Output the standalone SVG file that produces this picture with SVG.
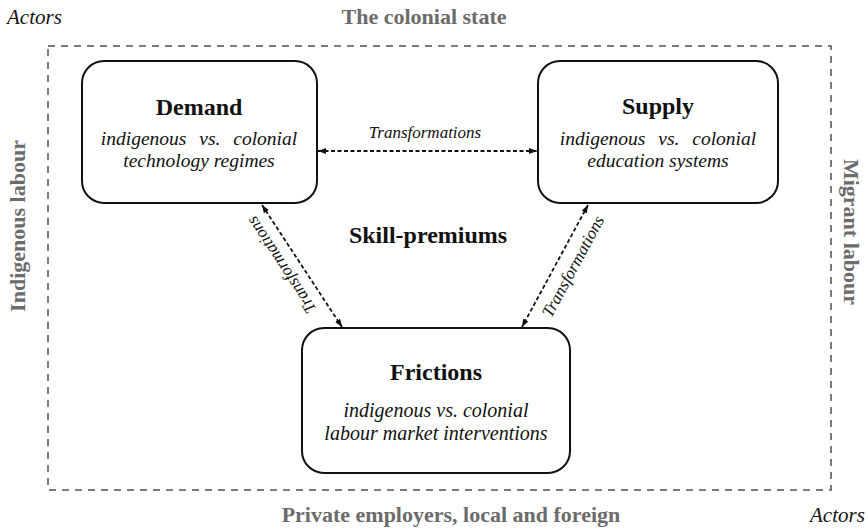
<svg xmlns="http://www.w3.org/2000/svg" width="868" height="532" viewBox="0 0 868 532">
  <style>
    text { font-family: "Liberation Serif", "Times New Roman", serif; }
    .actor { font-size: 21px; font-style: italic; fill: #111; }
    .side { font-size: 22px; font-weight: bold; fill: #6b6b6b; }
    .frame { fill: none; stroke: #7a7a7a; stroke-width: 2; stroke-dasharray: 7 6; }
    .box { fill: #fff; stroke: #111; stroke-width: 2; }
    .title { font-size: 24px; font-weight: bold; fill: #111; text-anchor: middle; }
    .sub { font-size: 19.5px; font-style: italic; fill: #111; text-anchor: middle; }
    .link { fill: none; stroke: #111; stroke-width: 1.8; stroke-dasharray: 4 2.5; }
    .label { font-size: 17px; font-style: italic; fill: #111; text-anchor: middle; }
  </style>
  <defs>
    <marker id="arrow" viewBox="0 0 8 6" refX="8" refY="3" markerWidth="8" markerHeight="6" markerUnits="userSpaceOnUse" orient="auto-start-reverse">
      <path d="M0,0 L8,3 L0,6 Z" fill="#111"/>
    </marker>
  </defs>

  <rect width="868" height="532" fill="#fff"/>

  <!-- actor labels around the frame -->
  <g id="actors">
    <text class="actor" x="7" y="24">Actors</text>
    <text class="actor" x="810" y="522">Actors</text>
    <text class="side" x="424" y="24" text-anchor="middle">The colonial state</text>
    <text class="side" x="451" y="522" text-anchor="middle">Private employers, local and foreign</text>
    <text class="side" transform="translate(25,226) rotate(-90)" text-anchor="middle">Indigenous labour</text>
    <text class="side" transform="translate(844,232) rotate(90)" text-anchor="middle">Migrant labour</text>
  </g>

  <rect id="frame" class="frame" x="48" y="46" width="783" height="444"/>

  <text id="skill-premiums" class="title" x="428" y="243">Skill-premiums</text>

  <!-- connectors -->
  <g id="connectors">
    <line class="link" x1="318" y1="151" x2="537" y2="151" marker-start="url(#arrow)" marker-end="url(#arrow)"/>
    <line class="link" x1="262" y1="205" x2="342" y2="327" marker-start="url(#arrow)" marker-end="url(#arrow)"/>
    <line class="link" x1="588" y1="205" x2="522" y2="327" marker-start="url(#arrow)" marker-end="url(#arrow)"/>
    <text class="label" x="425" y="138">Transformations</text>
    <text class="label" transform="translate(286,262) rotate(236.7)">Transformations</text>
    <text class="label" transform="translate(578,269) rotate(-61.6)">Transformations</text>
  </g>

  <g id="demand">
    <rect class="box" x="82" y="61" width="235" height="142" rx="22"/>
    <text class="title" x="199" y="115">Demand</text>
    <text class="sub" x="199" y="145" word-spacing="8">indigenous vs. colonial</text>
    <text class="sub" x="199" y="167">technology regimes</text>
  </g>

  <g id="supply">
    <rect class="box" x="538" y="61" width="240" height="142" rx="22"/>
    <text class="title" x="658" y="114">Supply</text>
    <text class="sub" x="658" y="145" word-spacing="8">indigenous vs. colonial</text>
    <text class="sub" x="658" y="167">education systems</text>
  </g>

  <g id="frictions">
    <rect class="box" x="302" y="328" width="268" height="145" rx="22"/>
    <text class="title" x="436" y="380">Frictions</text>
    <text class="sub" x="436" y="417" style="font-size:20px">indigenous vs. colonial</text>
    <text class="sub" x="436" y="440" style="font-size:20px">labour market interventions</text>
  </g>
</svg>
